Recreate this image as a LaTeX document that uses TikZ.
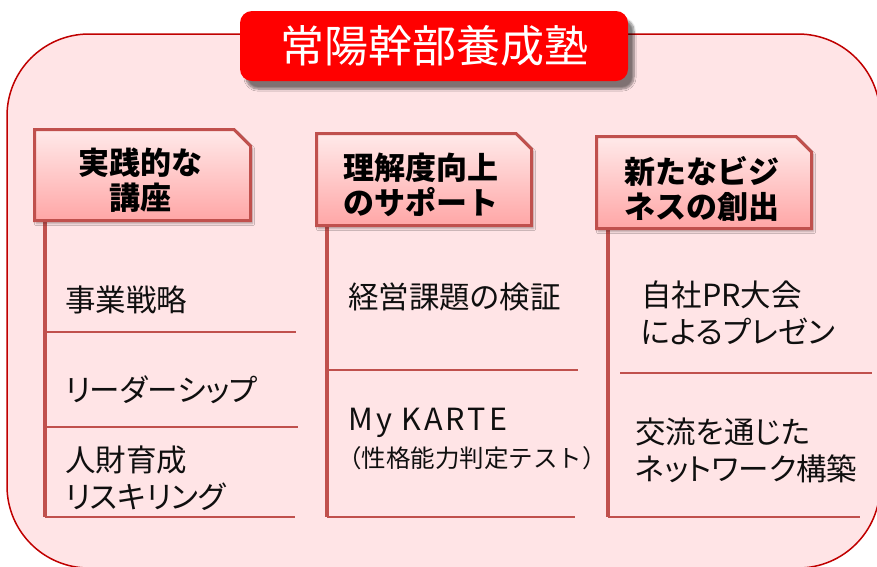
\documentclass[tikz,border=0pt]{standalone}
\usepackage{fontspec}
\setmainfont{Noto Sans CJK JP}
\newfontfamily\bodyjp{Noto Sans CJK JP}[RawFeature=+palt]
\newfontfamily\widelatin{Noto Sans CJK JP}[LetterSpace=10]
\usetikzlibrary{shadows.blur}
\definecolor{outerfill}{RGB}{255,228,230}
\definecolor{outerline}{RGB}{192,0,0}
\definecolor{titlered}{RGB}{255,0,0}
\definecolor{hdrline}{RGB}{192,80,77}
\definecolor{hdrtop}{RGB}{255,234,234}
\definecolor{hdrbot}{RGB}{255,166,166}
\definecolor{txt}{RGB}{15,15,15}
\begin{document}
\begin{tikzpicture}[x=1pt,y=-1pt,
  outerbox/.style={draw=outerline, fill=outerfill, line width=1.5pt, rounded corners=82pt},
  titlebox/.style={fill=titlered, rounded corners=12pt, minimum width=388pt, minimum height=70pt,
    text=white, font=\fontsize{44}{44}\selectfont, inner sep=0pt,
    blur shadow={shadow xshift=6pt, shadow yshift=-8pt, shadow opacity=50, shadow blur steps=8}},
  hdrshape/.style={draw=hdrline, line width=3pt, top color=hdrtop, bottom color=hdrbot, line join=miter,
    blur shadow={shadow xshift=2pt, shadow yshift=-3pt, shadow opacity=30, shadow blur steps=5}},
  hdrtext/.style={font=\fontsize{31}{35}\selectfont\bfseries, align=center, text=black, inner sep=0pt},
  bodytext/.style={font=\bodyjp\fontsize{30.5}{37}\selectfont, align=left, anchor=west, text=txt, inner sep=0pt},
  latintext/.style={font=\widelatin\fontsize{30.5}{37}\selectfont, align=left, anchor=west, text=txt, inner sep=0pt},
  smalltext/.style={font=\fontsize{24.5}{28}\selectfont, align=left, anchor=west, text=txt, inner sep=0pt},
  vline/.style={draw=hdrline, line width=4.5pt},
  hline/.style={draw=hdrline, line width=2.5pt},
]
\useasboundingbox (0,0) rectangle (877,566);
% outer rounded frame
\path[outerbox] (7,34) rectangle (880,568);
% title
\node[titlebox] (title) at (434,46) {常陽幹部養成塾};

% column 1 lines
\coordinate (c1t) at (45,222);
\coordinate (c1b) at (45,517);
\coordinate (c1a) at (45,332);
\coordinate (c1ae) at (296,332);
\coordinate (c1c) at (45,427);
\coordinate (c1ce) at (298,427);
\coordinate (c1be) at (295,517);
\draw[hline] (c1a) -- (c1ae);
\draw[hline] (c1c) -- (c1ce);
\draw[hline] (c1b) -- (c1be);
\draw[vline] (c1t) -- (c1b);

% column 2 lines
\coordinate (c2t) at (327,227);
\coordinate (c2b) at (327,517);
\coordinate (c2a) at (327,370);
\coordinate (c2ae) at (578,370);
\coordinate (c2be) at (575,517);
\draw[hline] (c2a) -- (c2ae);
\draw[hline] (c2b) -- (c2be);
\draw[vline] (c2t) -- (c2b);

% column 3 lines
\coordinate (c3t) at (608,230);
\coordinate (c3b) at (608,517);
\coordinate (c3a) at (620,373);
\coordinate (c3ae) at (872,373);
\coordinate (c3be) at (860,517);
\draw[hline] (c3a) -- (c3ae);
\draw[hline] (c3b) -- (c3be);
\draw[vline] (c3t) -- (c3b);

% headers
\path[hdrshape] (34.5,129.5) -- (234,129.5) -- (250.5,146) -- (250.5,220.5) -- (34.5,220.5) -- cycle;
\path[hdrshape] (316.5,133.5) -- (516,133.5) -- (531.5,149) -- (531.5,225.5) -- (316.5,225.5) -- cycle;
\path[hdrshape] (596.5,136.5) -- (796,136.5) -- (811.5,152) -- (811.5,228.5) -- (596.5,228.5) -- cycle;
\node[hdrtext] (h1) at (140,180) {実践的な\\講座};
\node[hdrtext] (h2) at (421,185) {理解度向上\\のサポート};
\node[hdrtext] (h3) at (702,189) {新たなビジ\\ネスの創出};

% body texts
\node[bodytext] (t11) at (65,300) {事業戦略};
\node[bodytext] (t12) at (65,390) {リーダーシップ};
\node[bodytext] (t13) at (65,478) {人財育成\\リスキリング};
\node[bodytext] (t21) at (348,297) {経営課題の検証};
\node[latintext] (t22) at (348,423) {My KARTE};
\node[smalltext] (t23) at (337,458) {（性格能力判定テスト）};
\node[bodytext] (t31) at (641,313) {自社PR大会\\によるプレゼン};
\node[bodytext] (t32) at (635,450) {交流を通じた\\ネットワーク構築};
\end{tikzpicture}
\end{document}
